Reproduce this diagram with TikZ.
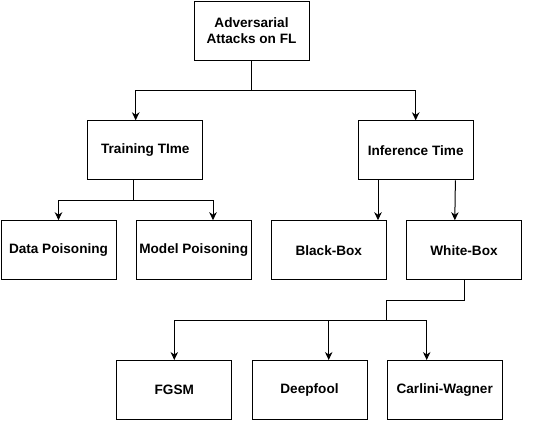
\documentclass[tikz,border=0pt]{standalone}
\usepackage{fontspec}
\setmainfont{Liberation Sans}
\usetikzlibrary{arrows.meta}
\begin{document}
\begin{tikzpicture}[x=1pt,y=-1pt,
  box/.style={draw=black,line width=1pt,rectangle,minimum width=115pt,minimum height=59pt,
    inner sep=0pt,align=center,font=\fontsize{13.6}{16.6}\selectfont\bfseries},
  link/.style={draw=black,line width=1pt},
  arr/.style={link,-{Stealth[length=8pt,width=7.5pt,inset=2.5pt]}}]
\useasboundingbox (0,0) rectangle (541,421);
\node[box] (top) at (251.5,30.5) {Adversarial\\Attacks on FL};
\node[box] (train) at (145.3,150.3) {Training TIme};
\node[box] (inf) at (415.7,150.3) {Inference Time};
\node[box] (data) at (58.5,250.2) {Data Poisoning};
\node[box] (model) at (193.7,250.2) {Model Poisoning};
\node[box] (black) at (328.8,250.2) {Black-Box};
\node[box] (white) at (464,250.2) {White-Box};
\node[box] (fgsm) at (174.3,390) {FGSM};
\node[box] (deep) at (309.5,390) {Deepfool};
\node[box] (carl) at (444.7,390) {Carlini-Wagner};
% top level
\coordinate (j1) at (251.5,90);
\draw[link] (top.south) -- (j1);
\draw[arr] (j1) -| ([xshift=-9.6pt]train.north);
\draw[arr] (j1) -| (inf.north);
% training
\coordinate (j2) at (133.7,200);
\draw[link] ([xshift=-11.6pt]train.south) -- (j2);
\draw[arr] (j2) -| (data.north);
\draw[arr] (j2) -| ([xshift=19.3pt]model.north);
% inference
\draw[arr] ([xshift=-37.7pt]inf.south) -- ([xshift=49.2pt]black.north);
\draw[arr] ([xshift=39.7pt]inf.south) -- ([xshift=-9.2pt]white.north);
% white box
\coordinate (j3) at (386.7,320);
\draw[link] (white.south) -- ++(0,20) -| (j3);
\draw[arr] (j3) -| (fgsm.north);
\draw[arr] (j3) -| ([xshift=19.2pt]deep.north);
\draw[arr] (j3) -| ([xshift=-18pt]carl.north);
\end{tikzpicture}
\end{document}
